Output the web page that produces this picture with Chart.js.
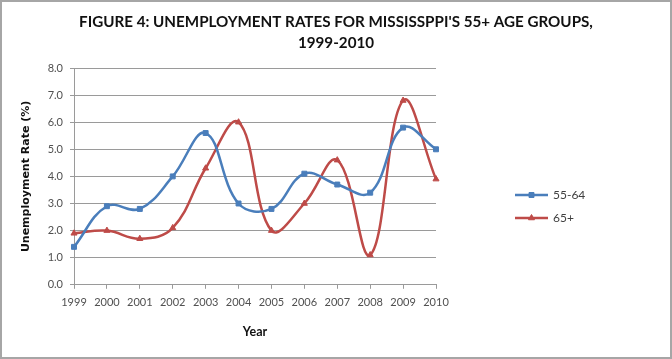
<!DOCTYPE html>
<html>
<head>
<meta charset="utf-8">
<script src="https://cdn.jsdelivr.net/npm/chart.js@4/dist/chart.umd.min.js"></script>
<style>
  html, body { margin: 0; padding: 0; background: #fff; }
  #wrap { position: relative; width: 672px; height: 359px; }
  #frame { position: absolute; left: 0; top: 0; width: 672px; height: 359px; box-sizing: border-box; border: 2px solid #a6a6a6; pointer-events: none; }
</style>
</head>
<body>
<div id="wrap">
  <canvas id="c" width="672" height="359"></canvas>
  <div id="frame"></div>
</div>
<script>
const years = ['1999','2000','2001','2002','2003','2004','2005','2006','2007','2008','2009','2010'];
const age55to64 = [1.4, 2.9, 2.8, 4.0, 5.6, 3.0, 2.8, 4.1, 3.7, 3.4, 5.8, 5.0];
const age65plus = [1.9, 2.0, 1.7, 2.1, 4.3, 6.0, 2.0, 3.0, 4.6, 1.1, 6.8, 3.9];
const seriesNames = ['55-64', '65+'];
const titleLines = ["FIGURE 4: UNEMPLOYMENT RATES FOR MISSISSPPI'S 55+ AGE GROUPS,", '1999-2010'];
const yTitle = 'Unemployment Rate (%)';
const xTitle = 'Year';

const BLUE = '#4A7EBB';
const RED = '#BE4B48';
const FONT = 'Lato, "Open Sans", sans-serif';

const titlePlugin = {
  id: 'pageTitle',
  afterDraw(chart) {
    const ctx = chart.ctx;
    ctx.save();
    ctx.fillStyle = '#111';
    ctx.font = 'bold 15.2px ' + FONT;
    ctx.textAlign = 'center';
    ctx.textBaseline = 'middle';
    ctx.fillText(titleLines[0], 336, 22);
    ctx.fillText(titleLines[1], 336, 43);
    ctx.restore();
  }
};

const legendPlugin = {
  id: 'sideLegend',
  afterDraw(chart) {
    const ctx = chart.ctx;
    const x0 = 515, x1 = 548, tx = 553;
    const ys = [195, 218];
    chart.data.datasets.forEach((ds, i) => {
      const y = ys[i];
      ctx.save();
      ctx.strokeStyle = ds.borderColor;
      ctx.lineWidth = 2.5;
      ctx.beginPath(); ctx.moveTo(x0, y); ctx.lineTo(x1, y); ctx.stroke();
      ctx.fillStyle = ds.borderColor;
      ctx.lineWidth = 1;
      Chart.helpers.drawPoint(ctx, {pointStyle: ds.pointStyle, radius: ds.pointRadius, borderWidth: 1}, (x0 + x1) / 2, y);
      ctx.fillStyle = '#404040';
      ctx.font = '12px ' + FONT;
      ctx.textBaseline = 'middle';
      ctx.textAlign = 'left';
      ctx.fillText(ds.label, tx, y);
      ctx.restore();
    });
  }
};

new Chart(document.getElementById('c'), {
  type: 'line',
  data: {
    labels: years,
    datasets: [
      { label: seriesNames[0], data: age55to64, borderColor: BLUE, backgroundColor: BLUE,
        borderWidth: 2.5, tension: 0.4, pointStyle: 'rect', pointRadius: 3.5, pointBorderWidth: 1 },
      { label: seriesNames[1], data: age65plus, borderColor: RED, backgroundColor: RED,
        borderWidth: 2.5, tension: 0.4, pointStyle: 'triangle', pointRadius: 3.5, pointBorderWidth: 1 }
    ]
  },
  options: {
    responsive: false,
    animation: false,
    devicePixelRatio: 1,
    layout: { padding: { left: 10, right: 236, top: 68, bottom: 20 } },
    plugins: {
      legend: { display: false },
      tooltip: { enabled: false },
      title: { display: false }
    },
    scales: {
      x: {
        offset: false,
        grid: { drawOnChartArea: false, drawTicks: true, tickLength: 4, color: '#9a9a9a' },
        border: { color: '#9a9a9a', width: 1 },
        ticks: { color: '#505050', font: { family: FONT, size: 11 }, padding: 7, maxRotation: 0, autoSkip: false },
        title: { display: true, text: xTitle, color: '#111', font: { family: FONT, size: 12.5, weight: 'bold' }, padding: { top: 8, bottom: 0 } }
      },
      y: {
        min: 0, max: 8,
        afterFit(scale) { scale.width = 64; },
        grid: { color: '#9a9a9a', tickLength: 4, drawTicks: true },
        border: { color: '#9a9a9a', width: 1 },
        ticks: { stepSize: 1, color: '#505050', font: { family: FONT, size: 11 }, padding: 7,
                 callback: v => Number(v).toFixed(1) },
        title: { display: true, text: yTitle, color: '#111', font: { family: '"DejaVu Sans", sans-serif', size: 11, weight: 'bold' }, padding: { top: 10, bottom: 4 } }
      }
    }
  },
  plugins: [legendPlugin, titlePlugin]
});
</script>
</body>
</html>
